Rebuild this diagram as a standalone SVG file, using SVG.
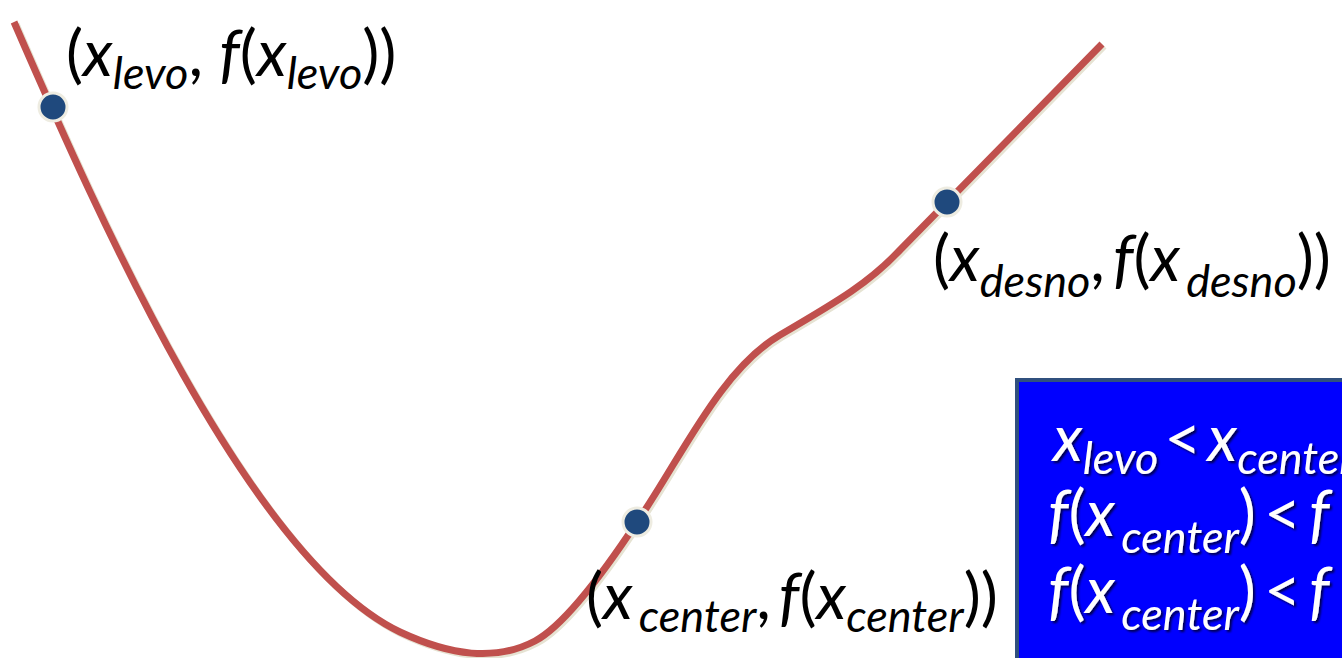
<svg xmlns="http://www.w3.org/2000/svg" width="1342" height="658" viewBox="0 0 1342 658">
<defs>
<style>
.lbl{font-family:Lato,"Open Sans","Liberation Sans",sans-serif;font-size:64px;fill:#000}
.it{font-style:italic}
.sub{font-style:italic;font-size:45px}
.box{fill:#0000FF;stroke:#30507E;stroke-width:4}
.btxt{font-family:Lato,"Open Sans","Liberation Sans",sans-serif;font-size:64px;fill:#fff}
.dot{fill:#1F497D;stroke:#EEECE1;stroke-width:3}
</style>
<filter id="sh" x="-10%" y="-10%" width="120%" height="130%">
<feDropShadow dx="2" dy="2" stdDeviation="1" flood-color="#000" flood-opacity="0.7"/>
</filter>
</defs>
<rect width="1342" height="658" fill="#fff"/>
<g id="connectors">
<path id="curve-shadow" d="M14 22 C100 220,250 560,400 632 C450 655.3,495 662,535 641 C563 626,602 575,637 522 C680 460,720 370,780 335 C840 300,870 282,900 250 L1102 44" fill="none" stroke="#E6E3D3" stroke-width="7" transform="translate(2,2)"/>
<path id="curve" d="M14 22 C100 220,250 560,400 632 C450 655.3,495 662,535 641 C563 626,602 575,637 522 C680 460,720 370,780 335 C840 300,870 282,900 250 L1102 44" fill="none" stroke="#C0504D" stroke-width="7"/>
</g>
<g id="node-levo">
<circle class="dot" cx="53" cy="107" r="14"/>
<text class="lbl" x="66" y="76">(<tspan class="it">x</tspan><tspan class="sub" dy="13">levo</tspan><tspan dy="-13">, </tspan><tspan class="it">f</tspan>(<tspan class="it">x</tspan><tspan class="sub" dy="13">levo</tspan><tspan dy="-13">))</tspan></text>
</g>
<g id="node-desno">
<circle class="dot" cx="947" cy="202" r="14"/>
<text class="lbl" x="933" y="281">(<tspan class="it">x</tspan><tspan class="sub" dy="16">desno</tspan><tspan dy="-16">,</tspan><tspan class="it" dx="8">f</tspan>(<tspan class="it">x</tspan><tspan class="sub" dx="6" dy="16">desno</tspan><tspan dy="-16">))</tspan></text>
</g>
<g id="node-center">
<circle class="dot" cx="637" cy="522" r="14"/>
<text class="lbl" x="586" y="619">(<tspan class="it">x</tspan><tspan class="sub" dx="6" dy="13">center</tspan><tspan dy="-13">,</tspan><tspan class="it" dx="8">f</tspan>(<tspan class="it">x</tspan><tspan class="sub" dy="13">center</tspan><tspan dy="-13">))</tspan></text>
</g>
<g id="node-box">
<rect class="box" x="1017" y="380" width="340" height="290"/>
<g filter="url(#sh)">
<text class="btxt" x="1053" y="461"><tspan class="it">x</tspan><tspan class="sub" dy="13">levo</tspan><tspan dx="6" dy="-13">&lt;</tspan><tspan class="it" dx="6">x</tspan><tspan class="sub" dy="13">center</tspan></text>
<text class="btxt" x="1048" y="536"><tspan class="it">f</tspan>(<tspan class="it">x</tspan><tspan class="sub" dx="6" dy="17">center</tspan><tspan dy="-17">)</tspan><tspan dx="8">&lt;</tspan><tspan class="it" dx="8">f</tspan></text>
<text class="btxt" x="1048" y="613"><tspan class="it">f</tspan>(<tspan class="it">x</tspan><tspan class="sub" dx="6" dy="17">center</tspan><tspan dy="-17">)</tspan><tspan dx="8">&lt;</tspan><tspan class="it" dx="8">f</tspan></text>
</g>
</g>
</svg>
